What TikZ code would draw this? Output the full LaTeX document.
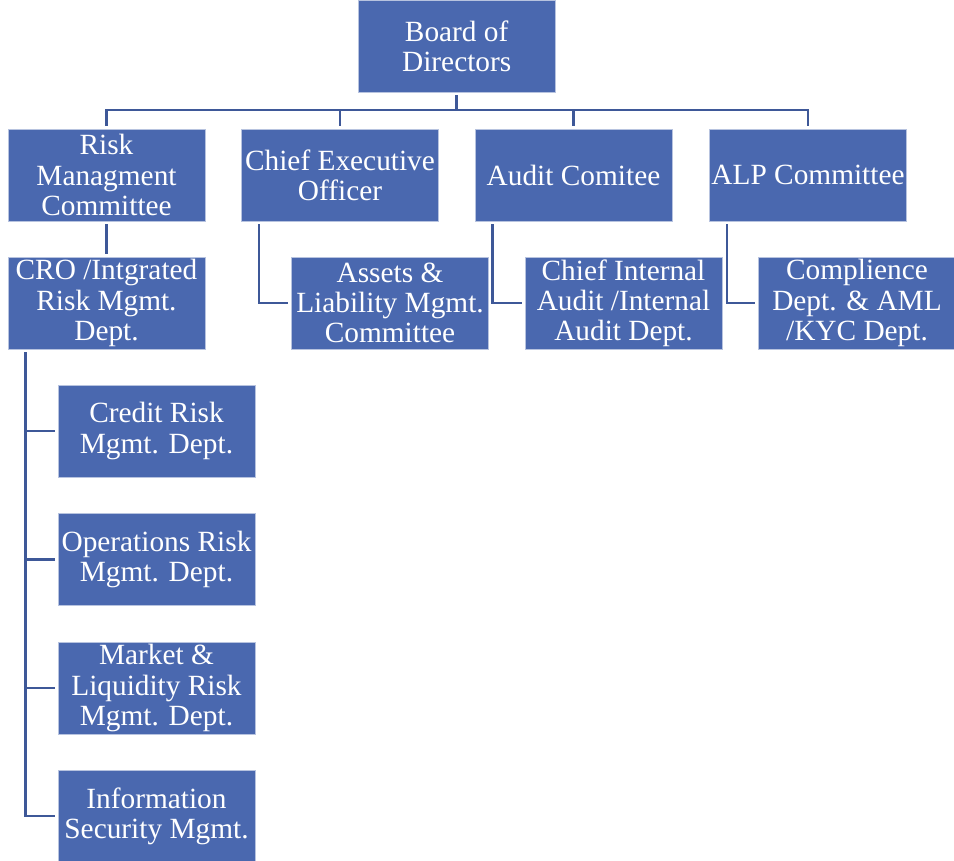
\documentclass[tikz,border=0pt]{standalone}
\usepackage{fontspec}
\setmainfont{Liberation Serif}
\definecolor{boxblue}{RGB}{74,104,175}
\definecolor{linkblue}{RGB}{62,88,152}
\tikzset{
  orgbox/.style={rectangle, fill=boxblue, draw=white!60!boxblue, line width=0.7pt,
    minimum width=147.75pt, minimum height=69pt, inner sep=0pt, align=center,
    text=white, font=\fontsize{22}{22.6}\selectfont},
  link/.style={draw=linkblue, line width=2.1pt, shorten >=2pt, shorten <=2pt}
}
\begin{document}
\begin{tikzpicture}
% org chart, coordinates in pixels of the reference
\def\pxsz{0.75pt}
\begin{scope}[x=\pxsz, y=-\pxsz]
  \useasboundingbox (0,0) rectangle (954,861);
  % Top
  \node[orgbox] (board) at (456.7,46.3) {Board of\\Directors};
  % Committees
  \node[orgbox] (risk)  at (106.5,175) {Risk\\Managment\\Committee};
  \node[orgbox] (ceo)   at (340,175)   {Chief Executive\\Officer};
  \node[orgbox] (audit) at (573.5,175) {Audit Comitee};
  \node[orgbox] (alp)   at (808,175)   {ALP Committee};
  % Second row
  \node[orgbox] (cro)    at (106.5,303) {CRO /Intgrated\\Risk Mgmt.\\Dept.};
  \node[orgbox] (assets) at (390,303)   {Assets \&\\Liability Mgmt.\\Committee};
  \node[orgbox] (cia)    at (623.5,303) {Chief Internal\\Audit /Internal\\Audit Dept.};
  \node[orgbox] (comp)   at (857,303)   {Complience\\Dept. \& AML\\/KYC Dept.};
  % Risk departments
  \node[orgbox] (credit) at (156.5,431)   {Credit Risk\\Mgmt. Dept.};
  \node[orgbox] (ops)    at (156.5,559.5) {Operations Risk\\Mgmt. Dept.};
  \node[orgbox] (market) at (156.5,688)   {Market \&\\Liquidity Risk\\Mgmt. Dept.};
  \node[orgbox] (info)   at (156.5,816)   {Information\\Security Mgmt.};
  % Connectors
  \coordinate (bus) at (0,110);
  \draw[link, shorten >=0pt] (board.south) -- (board.south |- bus);
  \draw[link] (risk.north) |- (alp.north |- bus) -- (alp.north);
  \draw[link, shorten >=0pt] (ceo.north) -- (ceo.north |- bus);
  \draw[link, shorten >=0pt] (audit.north) -- (audit.north |- bus);
  \draw[link] (risk.south) -- (cro.north);
  \draw[link] ([xshift=13.5pt]ceo.south west) |- (assets.west);
  \draw[link] ([xshift=13.5pt]audit.south west) |- (cia.west);
  \draw[link] ([xshift=13.5pt]alp.south west) |- (comp.west);
  \draw[link] ([xshift=13.5pt]cro.south west) |- (info.west);
  \foreach \d in {credit,ops,market}
    \draw[link, shorten <=0pt] ([xshift=13.5pt]cro.south west |- \d.west) -- (\d.west);
\end{scope}
\end{tikzpicture}
\end{document}
